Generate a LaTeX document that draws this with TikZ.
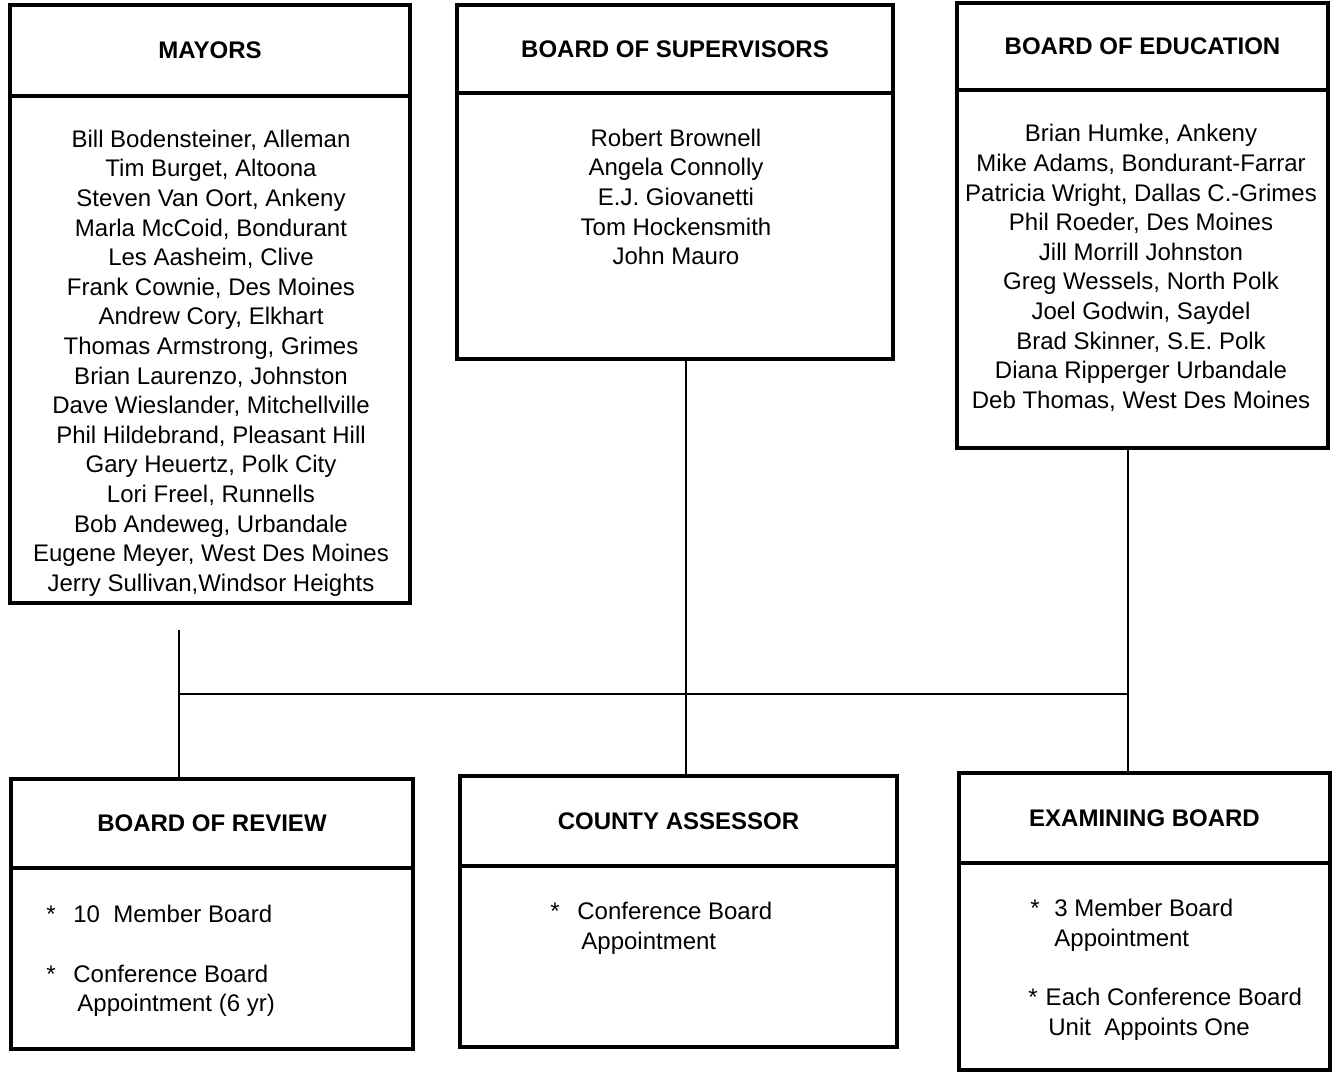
\documentclass[tikz,border=0pt]{standalone}
\usepackage{fontspec}
\setmainfont{Liberation Sans}
\usetikzlibrary{positioning}

\begin{document}
\begin{tikzpicture}[
  x=0.5pt, y=-0.5pt,
  font=\fontsize{12}{14.8}\selectfont,
  box/.style={draw, line width=1.75pt, inner sep=0pt, outer sep=0pt, anchor=north west},
  head/.style={box, font=\fontsize{12}{14.8}\selectfont\bfseries},
  names/.style={align=center, inner sep=0pt},
  notes/.style={align=left, inner sep=0pt, anchor=north west},
  link/.style={line width=1pt},
]
\useasboundingbox (0,0) rectangle (1336,1072);

% top row
\node[head, minimum width=200pt, minimum height=45.5pt] (mayhd) at (10,5) {MAYORS};
\node[box, minimum width=200pt, minimum height=253.5pt] (maybd) at (mayhd.south west) {};
\node[names] (maytxt) at (211,363) {Bill Bodensteiner, Alleman\\Tim Burget, Altoona\\Steven Van Oort, Ankeny\\
  Marla McCoid, Bondurant\\Les Aasheim, Clive\\Frank Cownie, Des Moines\\Andrew Cory, Elkhart\\
  Thomas Armstrong, Grimes\\Brian Laurenzo, Johnston\\Dave Wieslander, Mitchellville\\
  Phil Hildebrand, Pleasant Hill\\Gary Heuertz, Polk City\\Lori Freel, Runnells\\
  Bob Andeweg, Urbandale\\Eugene Meyer, West Des Moines\\Jerry Sullivan,Windsor Heights};

\node[head, minimum width=218pt, minimum height=44pt] (suphd) at (457,5) {BOARD OF SUPERVISORS};
\node[box, minimum width=218pt, minimum height=133pt] (supbd) at (suphd.south west) {};
\node[names] (suptxt) at (676,197) {Robert Brownell\\Angela Connolly\\E.J. Giovanetti\\Tom Hockensmith\\John Mauro};

\node[head, minimum width=185.5pt, minimum height=43.5pt] (eduhd) at (957,3) {BOARD OF EDUCATION};
\node[box, minimum width=185.5pt, minimum height=179pt] (edubd) at (eduhd.south west) {};
\node[names] (edutxt) at (1141,268) {Brian Humke, Ankeny\\Mike Adams, Bondurant-Farrar\\
  Patricia Wright, Dallas C.-Grimes\\Phil Roeder, Des Moines\\Jill Morrill Johnston\\
  Greg Wessels, North Polk\\Joel Godwin, Saydel\\Brad Skinner, S.E. Polk\\
  Diana Ripperger Urbandale\\Deb Thomas, West Des Moines};

% bottom row
\node[head, minimum width=201pt, minimum height=44.5pt] (revhd) at (11,779) {BOARD OF REVIEW};
\node[box, minimum width=201pt, minimum height=90.5pt] (revbd) at (revhd.south west) {};
\node[notes] (revtxt) at (46,905) {\makebox[13.5pt][l]{*}10\ \ Member Board\\[14.8pt]
  \makebox[13.5pt][l]{*}Conference Board\\\hspace*{15.5pt}Appointment (6 yr)};

\node[head, minimum width=218.5pt, minimum height=45pt] (asshd) at (460,776) {COUNTY ASSESSOR};
\node[box, minimum width=218.5pt, minimum height=90.5pt] (assbd) at (asshd.south west) {};
\node[notes] (asstxt) at (550,902) {\makebox[13.5pt][l]{*}Conference Board\\\hspace*{15.5pt}Appointment};

\node[head, minimum width=185.5pt, minimum height=45pt] (exahd) at (959,773) {EXAMINING BOARD};
\node[box, minimum width=185.5pt, minimum height=103.5pt] (exabd) at (exahd.south west) {};
\node[notes] (exatxt) at (1028,899) {\hspace*{1pt}\makebox[12pt][l]{*}3 Member Board\\\hspace*{13pt}Appointment\\[14.8pt]
  *\hspace*{4pt}Each Conference Board\\\hspace*{10pt}Unit\ \ Appoints One};

% connectors
\coordinate (maydrop) at (179,630);
\coordinate (bus) at (179,694);
\coordinate (supx) at (686,0);
\coordinate (edux) at (1128,0);
\draw[link] (maydrop) -- (maydrop |- revhd.north);
\draw[link] (bus) -- (bus -| edux);
\draw[link] (supbd.south -| supx) -- (asshd.north -| supx);
\draw[link] (edubd.south -| edux) -- (exahd.north -| edux);
\end{tikzpicture}
\end{document}
